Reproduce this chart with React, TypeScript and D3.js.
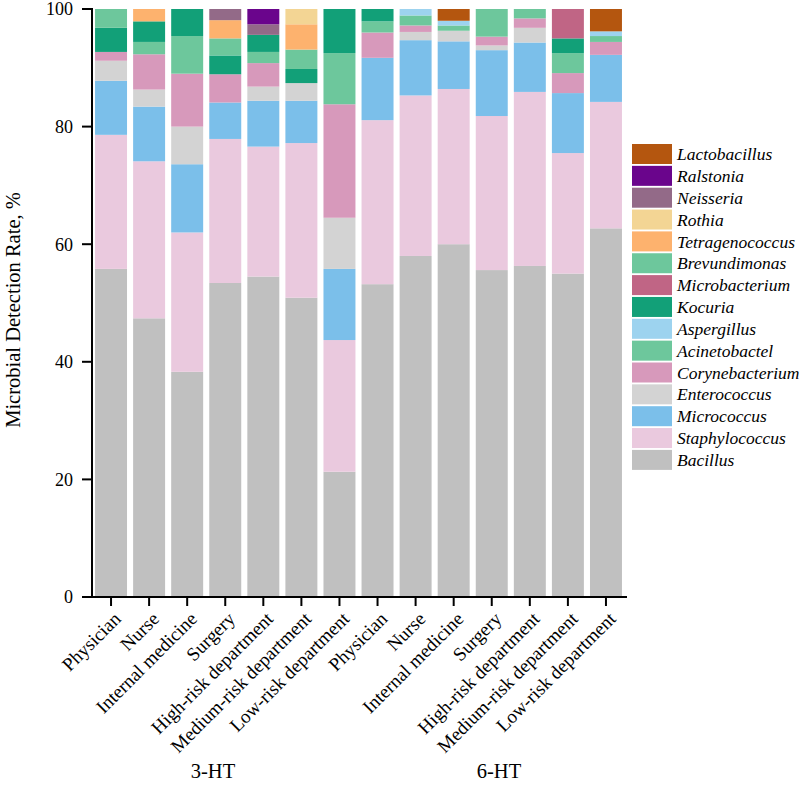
import React from 'react';
import * as d3 from 'd3';

const categories = [
  'Physician', 'Nurse', 'Internal medicine', 'Surgery', 'High-risk department', 'Medium-risk department', 'Low-risk department',
  'Physician', 'Nurse', 'Internal medicine', 'Surgery', 'High-risk department', 'Medium-risk department', 'Low-risk department',
];
const groups = ['3-HT', '6-HT'];

// stacking order: bottom -> top
const species = [
  'Bacillus', 'Staphylococcus', 'Micrococcus', 'Enterococcus', 'Corynebacterium', 'Acinetobactel', 'Aspergillus',
  'Kocuria', 'Microbacterium', 'Brevundimonas', 'Tetragenococcus', 'Rothia', 'Neisseria', 'Ralstonia', 'Lactobacillus',
];

const bacillus = [55.8, 47.4, 38.3, 53.4, 54.5, 50.9, 21.3, 53.2, 58.0, 60.0, 55.6, 56.3, 55.0, 62.7];
const staphylococcus = [22.8, 26.7, 23.7, 24.5, 22.1, 26.3, 22.4, 27.9, 27.3, 26.4, 26.2, 29.6, 20.5, 21.5];
const micrococcus = [9.2, 9.3, 11.6, 6.2, 7.8, 7.2, 12.1, 10.6, 9.4, 8.1, 11.2, 8.4, 10.2, 8.0];
const enterococcus = [3.4, 2.9, 6.4, 0, 2.4, 3.0, 8.7, 0, 1.4, 1.8, 0.8, 2.5, 0, 0];
const corynebacterium = [1.5, 6.0, 9.0, 4.8, 4.0, 0, 19.3, 4.3, 1.1, 0, 1.5, 1.6, 3.4, 2.2];
const acinetobactel = [0, 2.1, 6.4, 0, 1.9, 0, 8.7, 1.9, 1.7, 0.9, 4.7, 1.6, 3.4, 1.0];
const aspergillus = [0, 0, 0, 0, 0, 0, 0, 0, 1.1, 0.8, 0, 0, 0, 0.8];
const kocuria = [4.1, 3.5, 4.6, 3.2, 2.9, 2.4, 7.5, 2.1, 0, 0, 0, 0, 2.5, 0];
const microbacterium = [0, 0, 0, 0, 0, 0, 0, 0, 0, 0, 0, 0, 5.0, 0];
const brevundimonas = [3.2, 0, 0, 2.9, 0, 3.3, 0, 0, 0, 0, 0, 0, 0, 0];
const tetragenococcus = [0, 2.1, 0, 3.1, 0, 4.3, 0, 0, 0, 0, 0, 0, 0, 0];
const rothia = [0, 0, 0, 0, 0, 2.6, 0, 0, 0, 0, 0, 0, 0, 0];
const neisseria = [0, 0, 0, 1.9, 1.8, 0, 0, 0, 0, 0, 0, 0, 0, 0];
const ralstonia = [0, 0, 0, 0, 2.6, 0, 0, 0, 0, 0, 0, 0, 0, 0];
const lactobacillus = [0, 0, 0, 0, 0, 0, 0, 0, 0, 2.0, 0, 0, 0, 3.8];

const series = [
  bacillus, staphylococcus, micrococcus, enterococcus, corynebacterium, acinetobactel, aspergillus,
  kocuria, microbacterium, brevundimonas, tetragenococcus, rothia, neisseria, ralstonia, lactobacillus,
];

const colors = [
  '#c0c0c0', '#eac9de', '#7bbfea', '#d3d3d3', '#d799bb', '#6dc79c', '#9dd3ef',
  '#12a078', '#c06585', '#6dc79c', '#fdb26e', '#f3d594', '#936a88', '#6a058c', '#b4560f',
];

const yTicks = [0, 20, 40, 60, 80, 100];

const W = 799;
const H = 789;
const left = 92;
const right = 625;
const top = 9;
const bottom = 597;
const font = '"Liberation Serif", "Times New Roman", serif';

export default function App() {
  const rows = categories.map((c, i) => {
    const r: Record<string, number> = { idx: i };
    species.forEach((s, k) => { r[s] = series[k][i]; });
    return r;
  });
  const stacked = d3.stack<Record<string, number>>().keys(species)(rows);

  const x = d3.scaleBand<number>().domain(categories.map((_, i) => i)).range([left, right]).paddingInner(0.16).paddingOuter(0.08);
  const y = d3.scaleLinear().domain([0, 100]).range([bottom, top]);
  const bw = x.bandwidth();
  const cx = (i: number) => (x(i) as number) + bw / 2;

  const legendItems = species.map((s, k) => ({ s, c: colors[k] })).reverse();
  const groupX = [213, 499];

  return (
    <svg width={W} height={H} style={{ position: 'absolute', left: 0, top: 0, background: '#fff' }} fontFamily={font}>
      {stacked.map((layer, k) => (
        <g key={species[k]} fill={colors[k]}>
          {layer.map((d, i) => (d[1] - d[0] > 0 ? (
            <rect key={i} x={x(i)} y={y(d[1])} width={bw} height={y(d[0]) - y(d[1])} />
          ) : null))}
        </g>
      ))}
      {/* y axis */}
      <line x1={left} x2={left} y1={top - 1} y2={bottom + 1} stroke="#000" strokeWidth={2} />
      {yTicks.map(t => (
        <g key={t}>
          <line x1={left - 10} x2={left} y1={y(t)} y2={y(t)} stroke="#000" strokeWidth={2} />
          <text x={left - 19} y={y(t)} dy="0.35em" textAnchor="end" fontSize={18}>{t}</text>
        </g>
      ))}
      <text transform={`translate(20,310) rotate(-90)`} textAnchor="middle" fontSize={20.5}>
        Microbial Detection Rate, %
      </text>
      {/* x axis */}
      <line x1={left - 1} x2={right + 2} y1={bottom} y2={bottom} stroke="#000" strokeWidth={2} />
      {categories.map((c, i) => (
        <g key={i}>
          <line x1={cx(i)} x2={cx(i)} y1={bottom} y2={bottom + 9} stroke="#000" strokeWidth={2} />
          <text transform={`translate(${cx(i) + 11},${bottom + 23}) rotate(-45)`} textAnchor="end" fontSize={19}>{c}</text>
        </g>
      ))}
      {groups.map((g, i) => (
        <text key={g} x={groupX[i]} y={778} textAnchor="middle" fontSize={20.5}>{g}</text>
      ))}
      {/* legend */}
      {legendItems.map((it, j) => (
        <g key={it.s} transform={`translate(632,${144 + j * 21.85})`}>
          <rect width={40} height={20} fill={it.c} />
          <text x={45} y={10} dy="0.35em" fontSize={17.5} fontStyle="italic">{it.s}</text>
        </g>
      ))}
    </svg>
  );
}
